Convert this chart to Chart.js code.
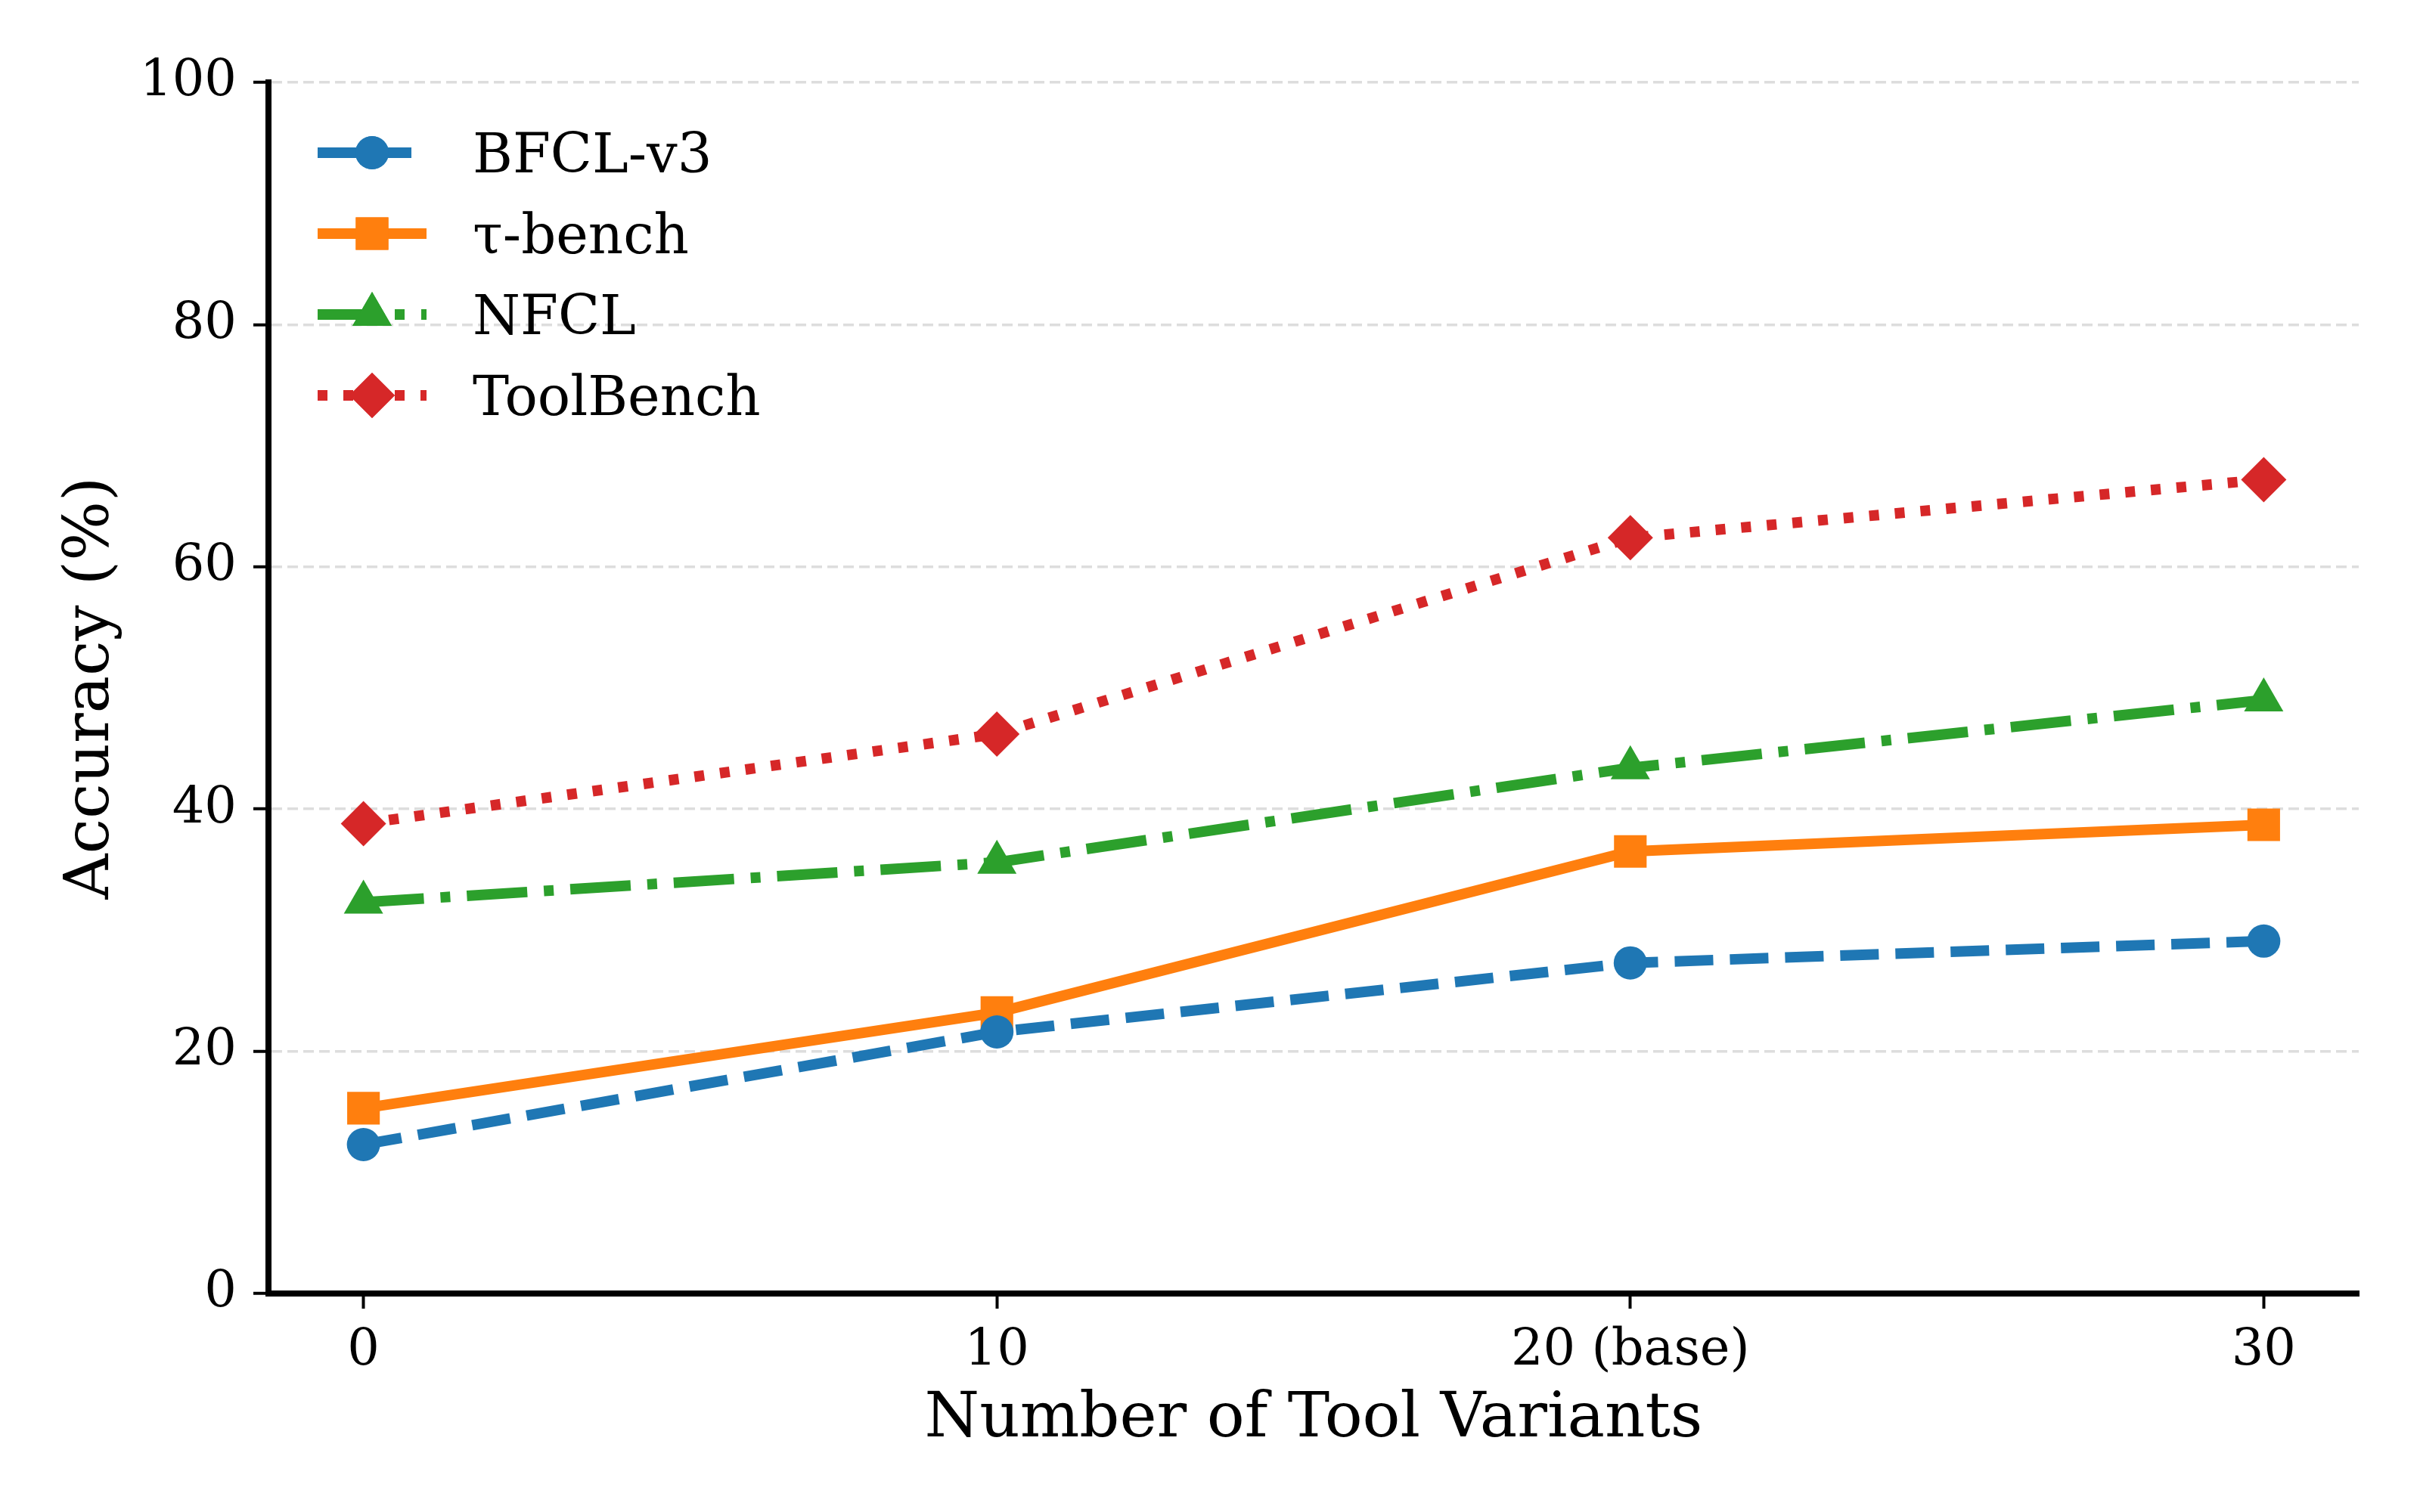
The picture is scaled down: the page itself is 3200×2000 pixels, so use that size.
<!DOCTYPE html>
<html lang="en">
<head>
  <meta charset="UTF-8" />
  <title>Accuracy vs Tool Variants</title>
  <script src="https://cdn.jsdelivr.net/npm/chart.js"></script>
  <style>
    html, body { margin: 0; padding: 0; background: #fff; }
    canvas { display: block; }
  </style>
</head>
<body>
  <canvas id="chart" width="3200" height="2000" style="width:3200px;height:2000px"></canvas>

  <script>
    // values
    const variantCounts = [0, 10, 20, 30];
    const xTickLabels = ['0', '10', '20 (base)', '30'];
    const seriesNames = ['BFCL-v3', 'τ-bench', 'NFCL', 'ToolBench'];
    const bfclV3 = [12.3, 21.6, 27.3, 29.1];
    const tauBench = [15.3, 23.2, 36.5, 38.7];
    const nfcl = [32.3, 35.6, 43.4, 49.0];
    const toolBench = [38.8, 46.2, 62.4, 67.2];
    const yTicks = [0, 20, 40, 60, 80, 100];

    const FONT = "'DejaVu Serif', serif";
    const LW = 14;

    const styles = [
      { color: '#1f77b4', dash: [51, 22], point: 'circle', radius: 22 },
      { color: '#ff7f0e', dash: [], point: 'rect', radius: 30.5 },
      { color: '#2ca02c', dash: [80, 22, 13, 22], point: 'triangle', radius: 30 },
      { color: '#d62728', dash: [13, 21], point: 'rectRot', radius: 30 }
    ];
    const seriesValues = [bfclV3, tauBench, nfcl, toolBench];

    const datasets = seriesNames.map((name, i) => ({
      label: name,
      data: variantCounts.map((x, j) => ({ x, y: seriesValues[i][j] })),
      borderColor: styles[i].color,
      backgroundColor: styles[i].color,
      borderWidth: LW,
      borderDash: styles[i].dash,
      borderCapStyle: 'butt',
      pointStyle: styles[i].point,
      pointRadius: styles[i].radius,
      pointHoverRadius: styles[i].radius,
      pointBorderWidth: 0,
      pointBackgroundColor: styles[i].color,
      tension: 0,
      fill: false
    }));

    function drawMarker(ctx, style, r, x, y) {
      if (Chart.helpers && Chart.helpers.drawPoint) {
        Chart.helpers.drawPoint(ctx, { pointStyle: style, radius: r, rotation: 0, borderWidth: 0 }, x, y);
        ctx.fill();
        return;
      }
      ctx.beginPath();
      ctx.arc(x, y, r, 0, Math.PI * 2);
      ctx.fill();
    }

    // legend drawn inside the axes, like the matplotlib one
    const insideLegend = {
      id: 'insideLegend',
      afterDatasetsDraw(chart) {
        const ctx = chart.ctx;
        const x0 = 420, handleLen = 144, textX = 625, rowY = 202, rowGap = 107;
        chart.data.datasets.forEach((ds, i) => {
          const y = rowY + i * rowGap;
          ctx.save();
          ctx.strokeStyle = ds.borderColor;
          ctx.fillStyle = ds.borderColor;
          ctx.lineWidth = LW;
          ctx.lineCap = 'butt';
          ctx.setLineDash(ds.borderDash);
          ctx.beginPath();
          ctx.moveTo(x0, y);
          ctx.lineTo(x0 + handleLen, y);
          ctx.stroke();
          ctx.setLineDash([]);
          drawMarker(ctx, ds.pointStyle, ds.pointRadius, x0 + handleLen / 2, y);
          ctx.fillStyle = '#000';
          ctx.font = `72px ${FONT}`;
          ctx.textBaseline = 'alphabetic';
          ctx.textAlign = 'left';
          ctx.fillText(ds.label, textX, y + 26);
          ctx.restore();
        });
      }
    };

    new Chart(document.getElementById('chart'), {
      type: 'line',
      data: { datasets },
      plugins: [insideLegend],
      options: {
        responsive: false,
        maintainAspectRatio: false,
        devicePixelRatio: 1,
        animation: false,
        layout: { padding: { left: 0, right: 81, top: 109, bottom: 0 } },
        plugins: { legend: { display: false }, tooltip: { enabled: false } },
        scales: {
          x: {
            type: 'linear',
            min: -1.5,
            max: 31.5,
            afterBuildTicks: (scale) => { scale.ticks = variantCounts.map(v => ({ value: v })); },
            afterFit: (scale) => { scale.height = 289; },
            ticks: {
              color: '#000',
              font: { family: FONT, size: 67 },
              padding: 16,
              maxRotation: 0,
              callback: (v) => xTickLabels[variantCounts.indexOf(v)]
            },
            grid: { drawOnChartArea: false, drawTicks: true, tickLength: 20, tickWidth: 4, tickColor: '#000' },
            border: { display: true, color: '#000', width: 8 },
            title: {
              display: true,
              text: 'Number of Tool Variants',
              color: '#000',
              font: { family: FONT, size: 83 },
              padding: { top: 0, bottom: 72 }
            }
          },
          y: {
            min: 0,
            max: 100,
            afterBuildTicks: (scale) => { scale.ticks = yTicks.map(v => ({ value: v })); },
            afterFit: (scale) => { scale.width = 355; },
            ticks: {
              color: '#000',
              font: { family: FONT, size: 67 },
              padding: 22
            },
            grid: {
              color: '#dddddd',
              lineWidth: 3.5,
              drawTicks: true,
              tickLength: 20,
              tickWidth: 4,
              tickColor: '#000'
            },
            border: { display: true, color: '#000', width: 8, dash: [14, 7] },
            title: {
              display: true,
              text: 'Accuracy (%)',
              color: '#000',
              font: { family: FONT, size: 83 },
              padding: { top: 72, bottom: 0 }
            }
          }
        }
      }
    });
  </script>
</body>
</html>
